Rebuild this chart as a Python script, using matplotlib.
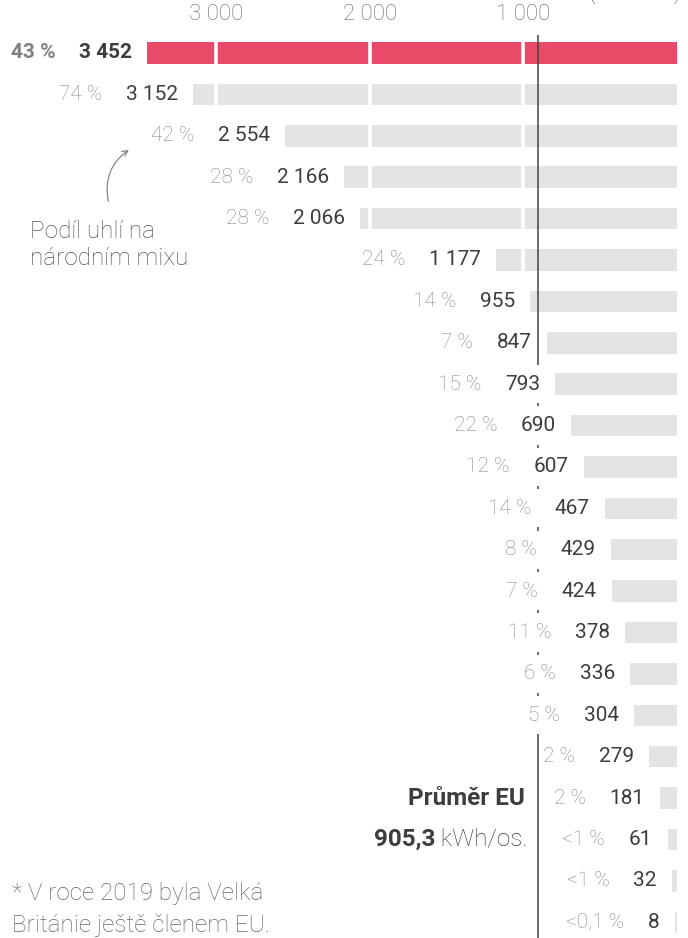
import matplotlib
matplotlib.use("Agg")
import matplotlib.pyplot as plt
from matplotlib.patches import Rectangle

plt.rcParams["font.family"] = ["Roboto", "DejaVu Sans"]

# spotreba elektriny z uhli na osobu (kWh/os.) a podil uhli na narodnim mixu
values = [3452, 3152, 2554, 2166, 2066, 1177, 955, 847, 793, 690, 607,
          467, 429, 424, 378, 336, 304, 279, 181, 61, 32, 8]
# bar lengths as drawn in the source graphic (a few rows are shifted there)
bar_lengths = [3452, 3152, 2554, 2166, 2066, 1177, 955, 847, 793, 690, 607,
               467, 429, 424, 336, 304, 279, 181, 110, 61, 32, 15]
shares = ["43 %", "74 %", "42 %", "28 %", "28 %", "24 %", "14 %", "7 %",
          "15 %", "22 %", "12 %", "14 %", "8 %", "7 %", "11 %", "6 %",
          "5 %", "2 %", "2 %", "<1 %", "<1 %", "<0,1 %"]
highlight = 0
eu_average = 905.3
grid_ticks = [3000, 2000, 1000]
tick_labels = ["3 000", "2 000", "1 000"]

RED = "#E84A67"
GRAY_BAR = "#E4E4E4"
DARK = "#3d3d3d"
PCT = "#888888"

fig = plt.figure(figsize=(6.88, 9.38), dpi=100)
ax = fig.add_axes([0, 0, 1, 1])
ax.set_xlim(4410, -72)
ax.set_ylim(21.38, -1.28)
ax.axis("off")

rows = list(range(len(values)))
colors = [RED if i == highlight else GRAY_BAR for i in rows]
ax.barh(rows, bar_lengths, height=0.52, color=colors, zorder=2)

# white separators at the grid values, only inside bars
for i, b in zip(rows, bar_lengths):
    for t in grid_ticks:
        if b > t:
            ax.vlines(t, i - 0.27, i + 0.27, color="white", lw=2.6, zorder=2.5)

# EU average line
ax.vlines(eu_average, -0.43, 21.38, color="#444444", lw=1.1, zorder=3)

labels = []
for i, (v, b, s) in enumerate(zip(values, bar_lengths, shares)):
    bold = i == highlight
    val = ax.annotate(f"{v:,}".replace(",", " "), xy=(b, i), xytext=(-11, 0),
                      textcoords="offset points", ha="right", va="center",
                      fontsize=15, color=DARK,
                      fontweight="bold" if bold else "normal", zorder=5)
    pct = ax.annotate(s, xy=(0, 0.5), xycoords=val, xytext=(-17, 0),
                      textcoords="offset points", ha="right", va="center",
                      fontsize=15, color="#808080" if bold else PCT,
                      fontweight="bold" if bold else "light", zorder=5)
    labels.append((i, val, pct))

# white background behind each label pair (hides the EU line)
fig.canvas.draw()
renderer = fig.canvas.get_renderer()
inv = ax.transData.inverted()
for i, val, pct in labels:
    x0 = pct.get_window_extent(renderer).x0 - 4
    x1 = val.get_window_extent(renderer).x1 + 4
    d0 = inv.transform((x0, 0))[0]
    d1 = inv.transform((x1, 0))[0]
    ax.add_patch(Rectangle((min(d0, d1), i - 0.46), abs(d1 - d0), 0.92,
                           fc="white", ec="none", zorder=4))

# top scale labels
for t, lab in zip(grid_ticks, tick_labels):
    ax.text(t, -0.94, lab, ha="center", va="center", fontsize=16,
            color="#666666", fontweight="light")
ax.text(-30, -1.305, "(kWh/os.)", ha="right", va="baseline", fontsize=16,
        color="#666666", fontweight="light")

# annotation for the share column
ax.text(4215, 4.03, "Podíl uhlí na\nnárodním mixu", ha="left", va="top",
        fontsize=17.5, color="#555555", fontweight="light", linespacing=1.22)
ax.annotate("", xy=(3555, 2.3), xytext=(3700, 3.65),
            arrowprops=dict(arrowstyle="->", color="#888888", lw=0.9,
                            connectionstyle="arc3,rad=-0.35"))

# EU average label
ax.text(eu_average + 85, 18, "Průměr EU", ha="right", va="center",
        fontsize=17.5, color=DARK, fontweight="bold")
kwh = ax.text(eu_average + 65, 19, " kWh/os.", ha="right", va="center",
              fontsize=17.5, color=DARK, fontweight="light")
ax.annotate("905,3", xy=(0, 0.5), xycoords=kwh, ha="right", va="center",
            fontsize=17.5, color=DARK, fontweight="bold")

# footnote
ax.text(4330, 20.02, "* V roce 2019 byla Velká\nBritánie ještě členem EU.",
        ha="left", va="top", fontsize=17.5, color="#666666",
        fontweight="light", linespacing=1.5)

fig.savefig("out.png", dpi=100)
